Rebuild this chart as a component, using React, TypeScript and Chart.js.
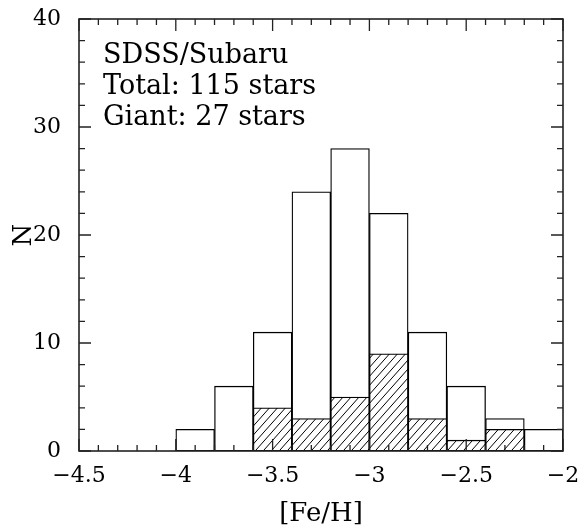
import React, { useEffect, useRef } from 'react';
import { Chart, registerables } from 'chart.js';

Chart.register(...registerables);

// ---- data ----
const binCenters = [-3.9, -3.7, -3.5, -3.3, -3.1, -2.9, -2.7, -2.5, -2.3, -2.1];
const totalCounts = [2, 6, 11, 24, 28, 22, 11, 6, 3, 2];
const giantCounts = [0, 0, 4, 3, 5, 9, 3, 1, 2, 0];
const xTicks = [-4.5, -4, -3.5, -3, -2.5, -2];
const yTicks = [0, 10, 20, 30, 40];
const annotationLines = ['SDSS/Subaru', 'Total: 115 stars', 'Giant: 27 stars'];
const xTitle = '[Fe/H]';
const yTitle = 'N';

const X_MIN = -4.5;
const X_MAX = -2;
const Y_MIN = 0;
const Y_MAX = 40;
const X_MINOR_STEP = 0.1;
const Y_MINOR_STEP = 2;

const FONT = 'DejaVu Serif';

function fmt(v: number): string {
  return v < 0 ? '\u2212' + String(Math.abs(v)) : String(v);
}

function makeHatch(): CanvasPattern | string {
  const c = document.createElement('canvas');
  const w = 8;
  const h = 9;
  c.width = w;
  c.height = h;
  const g = c.getContext('2d');
  if (!g) return '#fff';
  g.fillStyle = '#fff';
  g.fillRect(0, 0, w, h);
  g.strokeStyle = '#000';
  g.lineWidth = 1;
  g.beginPath();
  for (let k = -1; k <= 1; k++) {
    g.moveTo(k * w, h);
    g.lineTo(k * w + w, 0);
  }
  g.stroke();
  return g.createPattern(c, 'repeat') || '#fff';
}

function isMajor(v: number, majors: number[]): boolean {
  return majors.some((m) => Math.abs(m - v) < 1e-6);
}

export default function App() {
  const ref = useRef<HTMLCanvasElement>(null);

  useEffect(() => {
    const canvas = ref.current;
    if (!canvas) return;
    const hatch = makeHatch();

    const frameTicks = {
      id: 'frameTicks',
      afterDatasetsDraw(chart: any) {
        const { ctx, chartArea: a } = chart;
        const x = chart.scales.x;
        const y = chart.scales.y;
        ctx.save();
        ctx.strokeStyle = '#222';
        ctx.lineWidth = 1.3;
        ctx.beginPath();
        const nx = Math.round((X_MAX - X_MIN) / X_MINOR_STEP);
        for (let i = 0; i <= nx; i++) {
          const v = X_MIN + i * X_MINOR_STEP;
          const px = x.getPixelForValue(v);
          const len = isMajor(v, xTicks) ? 12 : 6;
          ctx.moveTo(px, a.bottom);
          ctx.lineTo(px, a.bottom - len);
          ctx.moveTo(px, a.top);
          ctx.lineTo(px, a.top + len);
        }
        const ny = Math.round((Y_MAX - Y_MIN) / Y_MINOR_STEP);
        for (let i = 0; i <= ny; i++) {
          const v = Y_MIN + i * Y_MINOR_STEP;
          const py = y.getPixelForValue(v);
          const len = isMajor(v, yTicks) ? 12 : 6;
          ctx.moveTo(a.left, py);
          ctx.lineTo(a.left + len, py);
          ctx.moveTo(a.right, py);
          ctx.lineTo(a.right - len, py);
        }
        ctx.stroke();
        ctx.lineWidth = 1.6;
        ctx.strokeRect(a.left, a.top, a.right - a.left, a.bottom - a.top);
        ctx.restore();
      },
    };

    const annotation = {
      id: 'annotation',
      afterDraw(chart: any) {
        const { ctx, chartArea: a } = chart;
        ctx.save();
        ctx.fillStyle = '#000';
        ctx.font = `27px "${FONT}"`;
        ctx.textAlign = 'left';
        ctx.textBaseline = 'alphabetic';
        annotationLines.forEach((t, i) => {
          ctx.fillText(t, a.left + 24, a.top + 44 + i * 31);
        });
        ctx.restore();
      },
    };

    const chart = new Chart(canvas, {
      type: 'bar',
      data: {
        datasets: [
          {
            label: 'Giant',
            data: binCenters
              .map((x, i) => ({ x, y: giantCounts[i] }))
              .filter((p) => p.y > 0),
            backgroundColor: hatch as any,
            borderColor: '#000',
            borderWidth: 1.3,
            borderSkipped: false,
            grouped: false,
            barPercentage: 1,
            categoryPercentage: 1,
            order: 0,
          },
          {
            label: 'Total',
            data: binCenters.map((x, i) => ({ x, y: totalCounts[i] })),
            backgroundColor: '#fff',
            borderColor: '#000',
            borderWidth: 1.3,
            borderSkipped: false,
            grouped: false,
            barPercentage: 1,
            categoryPercentage: 1,
            order: 1,
          },
        ] as any,
      },
      options: {
        animation: false,
        responsive: false,
        layout: { padding: { top: 19, right: 16, left: 0, bottom: 0 } },
        plugins: {
          legend: { display: false },
          tooltip: { enabled: false },
        },
        scales: {
          x: {
            type: 'linear',
            min: X_MIN,
            max: X_MAX,
            offset: false,
            afterBuildTicks: (s: any) => {
              s.ticks = xTicks.map((v) => ({ value: v }));
            },
            afterFit: (s: any) => {
              s.height = 76;
              s.paddingLeft = 0;
              s.paddingRight = 0;
            },
            ticks: {
              callback: (v: any) => fmt(Number(v)),
              font: { family: FONT, size: 22 },
              color: '#000',
              padding: 12,
              maxRotation: 0,
              autoSkip: false,
            },
            grid: { display: false, drawTicks: false },
            border: { display: false },
            title: {
              display: true,
              text: xTitle,
              font: { family: FONT, size: 26 },
              color: '#000',
              padding: { top: 0, bottom: -3 },
            },
          },
          y: {
            type: 'linear',
            min: Y_MIN,
            max: Y_MAX,
            afterBuildTicks: (s: any) => {
              s.ticks = yTicks.map((v) => ({ value: v }));
            },
            afterFit: (s: any) => {
              s.width = 79;
              s.paddingTop = 0;
              s.paddingBottom = 0;
            },
            ticks: {
              callback: (v: any) => fmt(Number(v)),
              font: { family: FONT, size: 22 },
              color: '#000',
              padding: 18,
              autoSkip: false,
            },
            grid: { display: false, drawTicks: false },
            border: { display: false },
            title: {
              display: true,
              text: yTitle,
              font: { family: FONT, size: 26 },
              color: '#000',
              padding: { top: 9, bottom: 0 },
            },
          },
        },
      } as any,
      plugins: [frameTicks, annotation],
    });

    return () => chart.destroy();
  }, []);

  return (
    <div style={{ position: 'fixed', left: 0, top: 0, width: 579, height: 527, background: '#fff' }}>
      <canvas ref={ref} width={579} height={527} style={{ display: 'block' }} />
    </div>
  );
}
